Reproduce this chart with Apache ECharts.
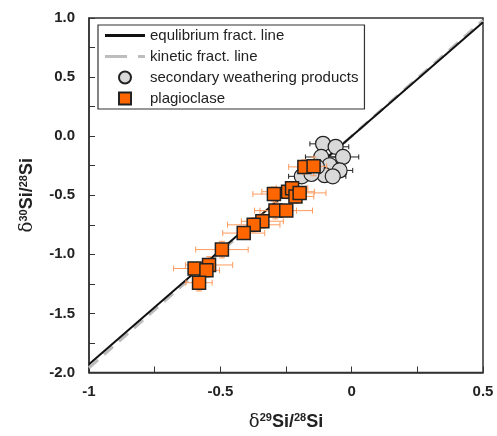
<!DOCTYPE html>
<html>
<head>
<meta charset="utf-8">
<script src="https://cdn.jsdelivr.net/npm/echarts@6/dist/echarts.min.js"></script>
<style>
  html, body { margin: 0; padding: 0; background: #fff; }
  #chart { width: 497px; height: 436px; }
</style>
</head>
<body>
<div id="chart"></div>
<script>
// Fractionation lines (end points at the axis limits)
const lineX = [-1, 0.5]
const equilibriumY = [-1.93, 0.965]
const kineticY = [-1.96, 0.98]

// Secondary weathering products: d29Si, d30Si and their errors
const secX = [-0.109, -0.061, -0.033, -0.116, -0.084, -0.046, -0.103, -0.132, -0.072, -0.19, -0.153]
const secY = [-0.065, -0.09, -0.176, -0.176, -0.246, -0.29, -0.33, -0.26, -0.34, -0.34, -0.32]
const secXErr = [0.05, 0.05, 0.06, 0.06, 0.05, 0.05, 0.06, 0.06, 0.05, 0.05, 0.05]
const secYErr = [0.04, 0.04, 0.04, 0.05, 0.04, 0.04, 0.05, 0.05, 0.04, 0.04, 0.04]

// Plagioclase
const plagX = [-0.18, -0.145, -0.296, -0.242, -0.227, -0.214, -0.198, -0.29, -0.249, -0.34, -0.373, -0.411, -0.494, -0.543, -0.598, -0.553, -0.581]
const plagY = [-0.26, -0.255, -0.49, -0.47, -0.44, -0.51, -0.48, -0.63, -0.63, -0.72, -0.75, -0.82, -0.96, -1.09, -1.12, -1.135, -1.24]
const plagXErr = [0.06, 0.05, 0.08, 0.1, 0.06, 0.07, 0.1, 0.08, 0.1, 0.08, 0.1, 0.08, 0.1, 0.09, 0.08, 0.05, 0.05]
const plagYErr = [0.06, 0.08, 0.06, 0.06, 0.05, 0.06, 0.05, 0.07, 0.05, 0.06, 0.06, 0.05, 0.07, 0.07, 0.05, 0.06, 0.07]

// Axis ranges
const xMin = -1, xMax = 0.5, xStep = 0.5
const yMin = -2, yMax = 1, yStep = 0.5

const font = '"Liberation Sans", Arial, sans-serif'

const zip = (a, b) => a.map((v, i) => [v, b[i]])
const zip4 = (a, b, c, d) => a.map((v, i) => [v, b[i], c[i], d[i]])

// draws a cross shaped error bar with little caps
const errorBars = (color, cap) => (params, api) => {
    const x = api.value(0)
    const y = api.value(1)
    const ex = api.value(2)
    const ey = api.value(3)
    const l = api.coord([x - ex, y])
    const r = api.coord([x + ex, y])
    const b = api.coord([x, y - ey])
    const t = api.coord([x, y + ey])
    const style = { stroke: color, lineWidth: 1 }
    const seg = (x1, y1, x2, y2) => ({ type: 'line', shape: { x1, y1, x2, y2 }, style })
    return {
        type: 'group',
        children: [
            seg(l[0], l[1], r[0], r[1]),
            seg(b[0], b[1], t[0], t[1]),
            seg(l[0], l[1] - cap, l[0], l[1] + cap),
            seg(r[0], r[1] - cap, r[0], r[1] + cap),
            seg(b[0] - cap, b[1], b[0] + cap, b[1]),
            seg(t[0] - cap, t[1], t[0] + cap, t[1]),
        ],
    }
}

const nameRich = {
    d: { fontSize: 18, fontFamily: '"DejaVu Serif", serif', color: '#222' },
    b: { fontSize: 18, fontWeight: 'bold', fontFamily: font, color: '#222' },
    s: { fontSize: 11, fontWeight: 'bold', fontFamily: font, color: '#222', verticalAlign: 'top', padding: [0, 0, 8, 0] },
}

const axisCommon = {
    type: 'value',
    nameLocation: 'middle',
    nameTextStyle: { rich: nameRich },
    axisLine: { onZero: false, lineStyle: { color: '#333', width: 1.5 } },
    axisTick: { inside: true, length: 6, lineStyle: { color: '#333' } },
    minorTick: { show: true, splitNumber: 2, length: 6, lineStyle: { color: '#333' } },
    splitLine: { show: false },
}

const myChart = echarts.init(document.getElementById('chart'))

const option = {
    animation: false,
    backgroundColor: '#fff',
    grid: {
        left: 89,
        right: 14,
        top: 18,
        bottom: 60,
        show: true,
        borderColor: '#333',
        borderWidth: 1.5,
    },
    legend: {
        orient: 'vertical',
        left: 98,
        top: 25,
        padding: [3, 6, 3, 7],
        itemWidth: 40,
        itemHeight: 12,
        itemGap: 6,
        backgroundColor: '#fff',
        borderColor: '#333',
        borderWidth: 1.2,
        borderRadius: 0,
        textStyle: { fontSize: 15, lineHeight: 12, fontFamily: font, color: '#222' },
        data: [
            { name: 'equlibrium fract. line', icon: 'path://M0,0h40v3H0z' },
            { name: 'kinetic fract. line', icon: 'path://M0,0h22v3H0z M33,0h7v3h-7z' },
            { name: 'secondary weathering products', icon: 'circle' },
            { name: 'plagioclase', icon: 'path://M0,0 L10,0 L10,10 L0,10 Z' },
        ],
    },
    xAxis: {
        ...axisCommon,
        min: xMin,
        max: xMax,
        interval: xStep,
        name: '{d|δ}{s|29}{b|Si/}{s|28}{b|Si}',
        nameGap: 40,
        axisLabel: { fontSize: 15, fontWeight: 'bold', fontFamily: font, color: '#222', margin: 12 },
    },
    yAxis: {
        ...axisCommon,
        min: yMin,
        max: yMax,
        interval: yStep,
        name: '{d|δ}{s|30}{b|Si/}{s|28}{b|Si}',
        nameRotate: 90,
        nameGap: 52,
        axisLabel: {
            fontSize: 15,
            fontWeight: 'bold',
            fontFamily: font,
            color: '#222',
            margin: 14,
            formatter: v => v.toFixed(1),
        },
    },
    series: [
        {
            name: 'kinetic fract. line',
            type: 'line',
            symbol: 'none',
            z: 1,
            lineStyle: { color: '#bdbdbd', width: 3, type: [12, 8] },
            itemStyle: { color: '#bdbdbd' },
            data: zip(lineX, kineticY),
        },
        {
            name: 'equlibrium fract. line',
            type: 'line',
            symbol: 'none',
            z: 2,
            lineStyle: { color: '#111', width: 2 },
            itemStyle: { color: '#111' },
            data: zip(lineX, equilibriumY),
        },
        {
            name: 'secErr',
            type: 'custom',
            z: 3,
            renderItem: errorBars('#222', 2.5),
            data: zip4(secX, secY, secXErr, secYErr),
        },
        {
            name: 'secondary weathering products',
            type: 'scatter',
            symbol: 'circle',
            symbolSize: 15,
            z: 4,
            itemStyle: { color: '#d9d9d9', borderColor: '#222', borderWidth: 1.2, opacity: 1 },
            data: zip(secX, secY),
        },
        {
            name: 'plagErr',
            type: 'custom',
            z: 5,
            renderItem: errorBars('#ff9b5e', 3),
            data: zip4(plagX, plagY, plagXErr, plagYErr),
        },
        {
            name: 'plagioclase',
            type: 'scatter',
            symbol: 'rect',
            symbolSize: 13,
            z: 6,
            itemStyle: { color: '#ff6600', borderColor: '#222', borderWidth: 1.5, opacity: 1 },
            data: zip(plagX, plagY),
        },
    ],
}

myChart.setOption(option)
</script>
</body>
</html>
